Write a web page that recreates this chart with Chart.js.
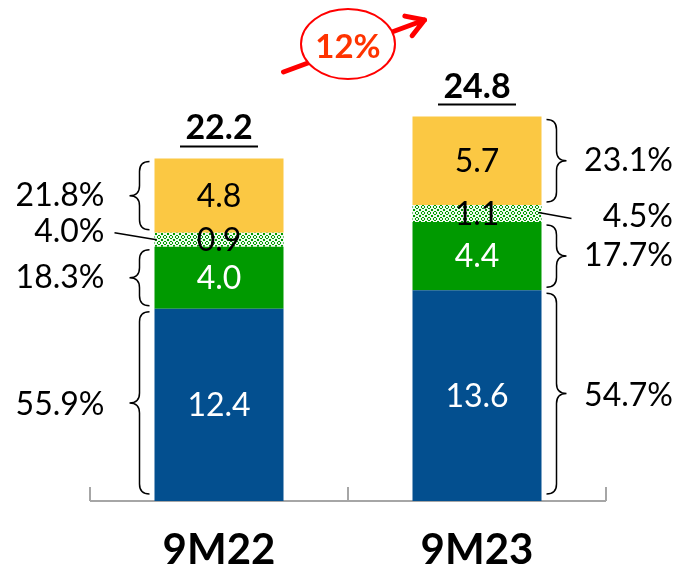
<!DOCTYPE html>
<html>
<head>
<meta charset="utf-8">
<script src="https://cdn.jsdelivr.net/npm/chart.js@4.4.0/dist/chart.umd.min.js"></script>
<style>
body { margin: 0; background: #fff; }
</style>
</head>
<body>
<canvas id="chart" width="678" height="569"></canvas>
<script>
var categories = ['9M22', '9M23'];
var mainValues = [12.4, 13.6];
var secondValues = [4.0, 4.4];
var smallValues = [0.9, 1.1];
var topValues = [4.8, 5.7];
var totals = [22.2, 24.8];
var mainShares = ['55.9%', '54.7%'];
var secondShares = ['18.3%', '17.7%'];
var smallShares = ['4.0%', '4.5%'];
var topShares = ['21.8%', '23.1%'];
var growth = '12%';

var BLUE = '#034f8f';
var GREEN = '#009a00';
var YELLOW = '#fbc843';

function makePattern() {
  var c = document.createElement('canvas');
  c.width = 6; c.height = 6;
  var g = c.getContext('2d');
  g.fillStyle = '#eef9ee';
  g.fillRect(0, 0, 6, 6);
  g.fillStyle = GREEN;
  // green diamonds with dots, leaving a light lattice
  g.fillRect(2, 1, 2, 1);
  g.fillRect(1, 2, 1, 2);
  g.fillRect(4, 2, 1, 2);
  g.fillRect(2, 4, 2, 1);
  g.fillRect(5, 5, 1, 1);
  g.fillRect(0, 5, 1, 1);
  g.fillRect(5, 0, 1, 1);
  g.fillRect(0, 0, 1, 1);
  return document.getElementById('chart').getContext('2d').createPattern(c, 'repeat');
}

function brace(ctx, x, y1, y2, dir, d) {
  var mid = (y1 + y2) / 2;
  var h = d / 2;
  var r = Math.min(10, (y2 - y1) / 4);
  ctx.beginPath();
  ctx.moveTo(x, y1);
  ctx.quadraticCurveTo(x + dir * h, y1, x + dir * h, y1 + r);
  ctx.lineTo(x + dir * h, mid - r);
  ctx.quadraticCurveTo(x + dir * h, mid, x + dir * d, mid);
  ctx.quadraticCurveTo(x + dir * h, mid, x + dir * h, mid + r);
  ctx.lineTo(x + dir * h, y2 - r);
  ctx.quadraticCurveTo(x + dir * h, y2, x, y2);
  ctx.stroke();
}

var axisPlugin = {
  id: 'axisPlugin',
  beforeDatasetsDraw: function(chart) {
    var ctx = chart.ctx;
    var area = chart.chartArea;
    var xs = chart.scales.x;
    var midX = (xs.getPixelForValue(0) + xs.getPixelForValue(1)) / 2;
    ctx.save();
    ctx.strokeStyle = '#a6a6a6';
    ctx.lineWidth = 2;
    ctx.beginPath();
    ctx.moveTo(area.left, area.bottom);
    ctx.lineTo(area.right, area.bottom);
    [area.left, midX, area.right].forEach(function(x) {
      ctx.moveTo(x, area.bottom);
      ctx.lineTo(x, area.bottom - 14);
    });
    ctx.stroke();
    ctx.restore();
  }
};

var labelPlugin = {
  id: 'labelPlugin',
  afterDatasetsDraw: function(chart) {
    var ctx = chart.ctx;
    var shares = [mainShares, secondShares, smallShares, topShares];
    ctx.save();

    // values inside the segments
    ctx.textAlign = 'center';
    ctx.textBaseline = 'middle';
    ctx.font = '32px Lato';
    for (var i = 0; i < 4; i++) {
      var meta = chart.getDatasetMeta(i);
      meta.data.forEach(function(el, j) {
        ctx.fillStyle = i < 2 ? '#ffffff' : '#000000';
        var v = chart.data.datasets[i].data[j];
        ctx.fillText(v.toFixed(1), el.x, (el.y + el.base) / 2 + 1);
      });
    }

    // totals, bold and underlined
    var topMeta = chart.getDatasetMeta(3);
    topMeta.data.forEach(function(el, j) {
      ctx.fillStyle = '#000';
      ctx.font = 'bold 34px Lato';
      ctx.fillText(totals[j].toFixed(1), el.x, el.y - 30);
      ctx.strokeStyle = '#000';
      ctx.lineWidth = 2;
      ctx.beginPath();
      ctx.moveTo(el.x - 39, el.y - 12);
      ctx.lineTo(el.x + 39, el.y - 12);
      ctx.stroke();
    });

    // braces and shares
    ctx.strokeStyle = '#000';
    ctx.lineWidth = 1.5;
    ctx.fillStyle = '#000';
    ctx.font = '32px Lato';
    for (var k = 0; k < 4; k++) {
      var m = chart.getDatasetMeta(k);
      m.data.forEach(function(el, j) {
        var left = el.x - el.width / 2;
        var right = el.x + el.width / 2;
        var mid = (el.y + el.base) / 2;
        var dir = j === 0 ? -1 : 1;
        var x0 = j === 0 ? left - 5 : right + 5;
        ctx.textAlign = 'right';
        if (k === 2) {
          ctx.beginPath();
          if (j === 0) {
            ctx.moveTo(left - 40, mid - 7);
            ctx.lineTo(left + 2, mid);
            ctx.stroke();
            ctx.fillText(shares[k][j], left - 50, mid - 8);
          } else {
            ctx.moveTo(right - 3, mid - 1);
            ctx.lineTo(right + 30, mid + 5);
            ctx.stroke();
            ctx.fillText(shares[k][j], 673, mid + 3);
          }
          return;
        }
        var y1 = el.y + 3;
        var y2 = Math.min(el.base, chart.chartArea.bottom - 4) - 3;
        brace(ctx, x0, y1, y2, dir, 20);
        if (j === 0) {
          ctx.fillText(shares[k][j], x0 - 45, mid);
        } else {
          ctx.fillText(shares[k][j], 673, mid);
        }
      });
    }

    // growth arrow
    var b0 = chart.getDatasetMeta(3).data[0];
    var b1 = chart.getDatasetMeta(3).data[1];
    var gapL = b0.x + b0.width / 2;
    var gapR = b1.x - b1.width / 2;
    var cx = (gapL + gapR) / 2;
    var top = chart.chartArea.top;
    var sx = gapL, sy = top + 67;
    var ex = gapR + 12, ey = top + 15;
    ctx.strokeStyle = '#ff0000';
    ctx.lineWidth = 5;
    ctx.lineCap = 'round';
    ctx.beginPath();
    ctx.moveTo(sx, sy);
    ctx.lineTo(ex, ey);
    var ang = Math.atan2(ey - sy, ex - sx);
    ctx.moveTo(ex, ey);
    ctx.lineTo(ex - 20 * Math.cos(ang - 0.55), ey - 20 * Math.sin(ang - 0.55));
    ctx.moveTo(ex, ey);
    ctx.lineTo(ex - 20 * Math.cos(ang + 0.55), ey - 20 * Math.sin(ang + 0.55));
    ctx.stroke();

    ctx.beginPath();
    ctx.ellipse(cx, top + 39, 47, 35, 0, 0, Math.PI * 2);
    ctx.fillStyle = '#fff';
    ctx.fill();
    ctx.lineWidth = 2;
    ctx.stroke();

    ctx.fillStyle = '#ff3300';
    ctx.font = 'bold 33px Lato';
    ctx.textAlign = 'center';
    ctx.fillText(growth, cx, top + 42);
    ctx.restore();
  }
};

var hatch = makePattern();

new Chart(document.getElementById('chart'), {
  type: 'bar',
  data: {
    labels: categories,
    datasets: [
      { data: mainValues, backgroundColor: BLUE },
      { data: secondValues, backgroundColor: GREEN },
      { data: smallValues, backgroundColor: hatch },
      { data: topValues, backgroundColor: YELLOW }
    ]
  },
  options: {
    responsive: false,
    animation: false,
    layout: { padding: { left: 90, right: 72, top: 5, bottom: 0 } },
    plugins: { legend: { display: false }, tooltip: { enabled: false } },
    datasets: { bar: { barPercentage: 0.5, categoryPercentage: 1 } },
    scales: {
      x: {
        stacked: true,
        grid: { display: false, drawTicks: false },
        border: { display: false },
        afterFit: function(scale) { scale.height = 68; },
        ticks: { color: '#000', padding: 28, font: { family: 'Lato', size: 42, weight: 'bold', lineHeight: 1 } }
      },
      y: { stacked: true, display: false, min: 0, max: 32 }
    }
  },
  plugins: [axisPlugin, labelPlugin]
});
</script>
</body>
</html>
